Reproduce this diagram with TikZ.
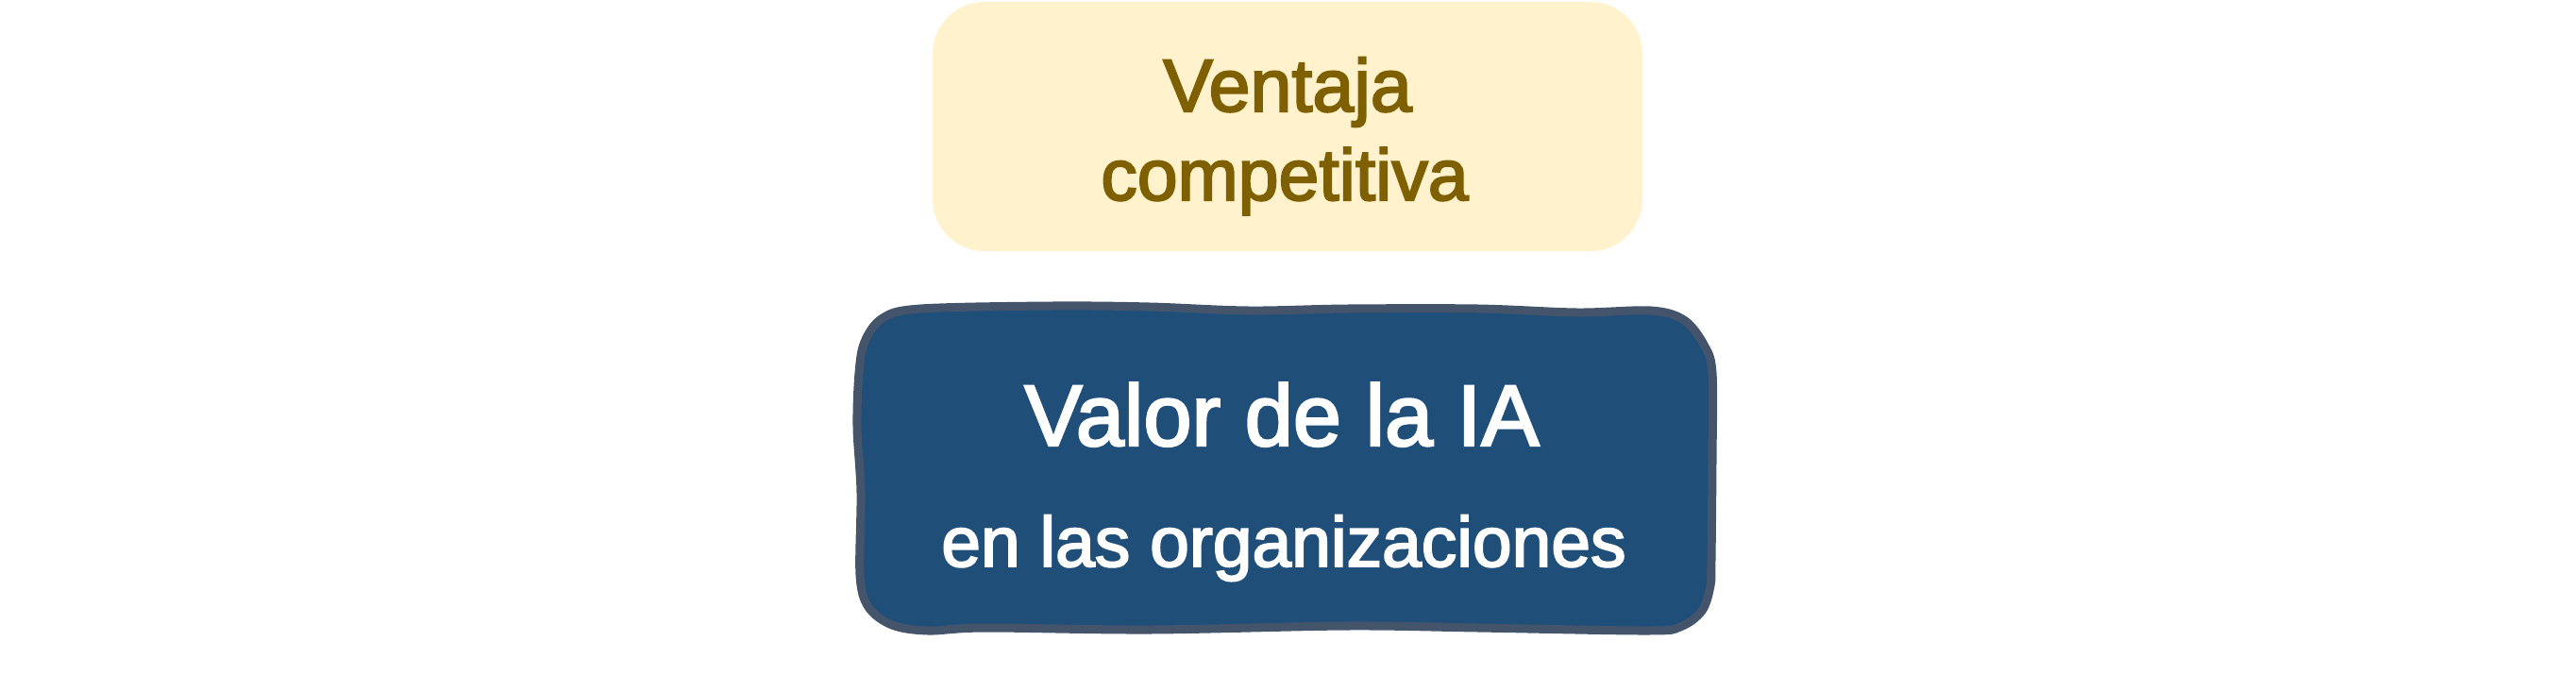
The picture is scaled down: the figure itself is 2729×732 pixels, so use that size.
\documentclass[tikz,border=0pt]{standalone}
\usepackage{fontspec}
\setmainfont{Liberation Sans}[FakeBold=2.6]
\definecolor{boxyellow}{HTML}{FFF2CC}
\definecolor{textbrown}{HTML}{7F6000}
\definecolor{boxblue}{HTML}{1F4E79}
\definecolor{edgeblue}{HTML}{44546A}
\tikzset{
  lbl/.style={inner sep=0pt, anchor=base},
  toptext/.style={lbl, text=textbrown, font=\fontsize{79}{90}\selectfont},
  bottext/.style={lbl, text=white},
}
\begin{document}
\begin{tikzpicture}[x=1pt,y=1pt]
\useasboundingbox (0,0) rectangle (2729,-732);
% top box
\fill[boxyellow, rounded corners=55pt] (988,-2) rectangle (1740,-266);
\node[toptext] (t1) at (1364,-118) {Ventaja};
\node[toptext, font=\fontsize{77}{90}\selectfont] (t2) at (1361,-212) {competitiva};
% bottom sketchy box
\filldraw[fill=boxblue, draw=edgeblue, line width=9pt, line join=round]
  plot[smooth cycle, tension=0.55] coordinates {
  (916,-362) (935,-337) (975,-327) (1114,-324) (1218,-325) (1323,-329)
  (1427,-327) (1566,-327) (1671,-331) (1749,-329) (1784,-339) (1805,-365)
  (1814,-395) (1814,-487) (1813,-592) (1812,-620) (1803,-647) (1780,-664)
  (1745,-668) (1566,-665) (1427,-663) (1218,-667) (1044,-665) (983,-668)
  (945,-662) (920,-643) (911,-609) (912,-522) (908,-452) (910,-395)};
\node[bottext, font=\fontsize{92}{100}\selectfont] (b1) at (1358,-472) {Valor de la IA};
\node[bottext, font=\fontsize{75}{90}\selectfont] (b2) at (1360,-600) {en las organizaciones};
\end{tikzpicture}
\end{document}
